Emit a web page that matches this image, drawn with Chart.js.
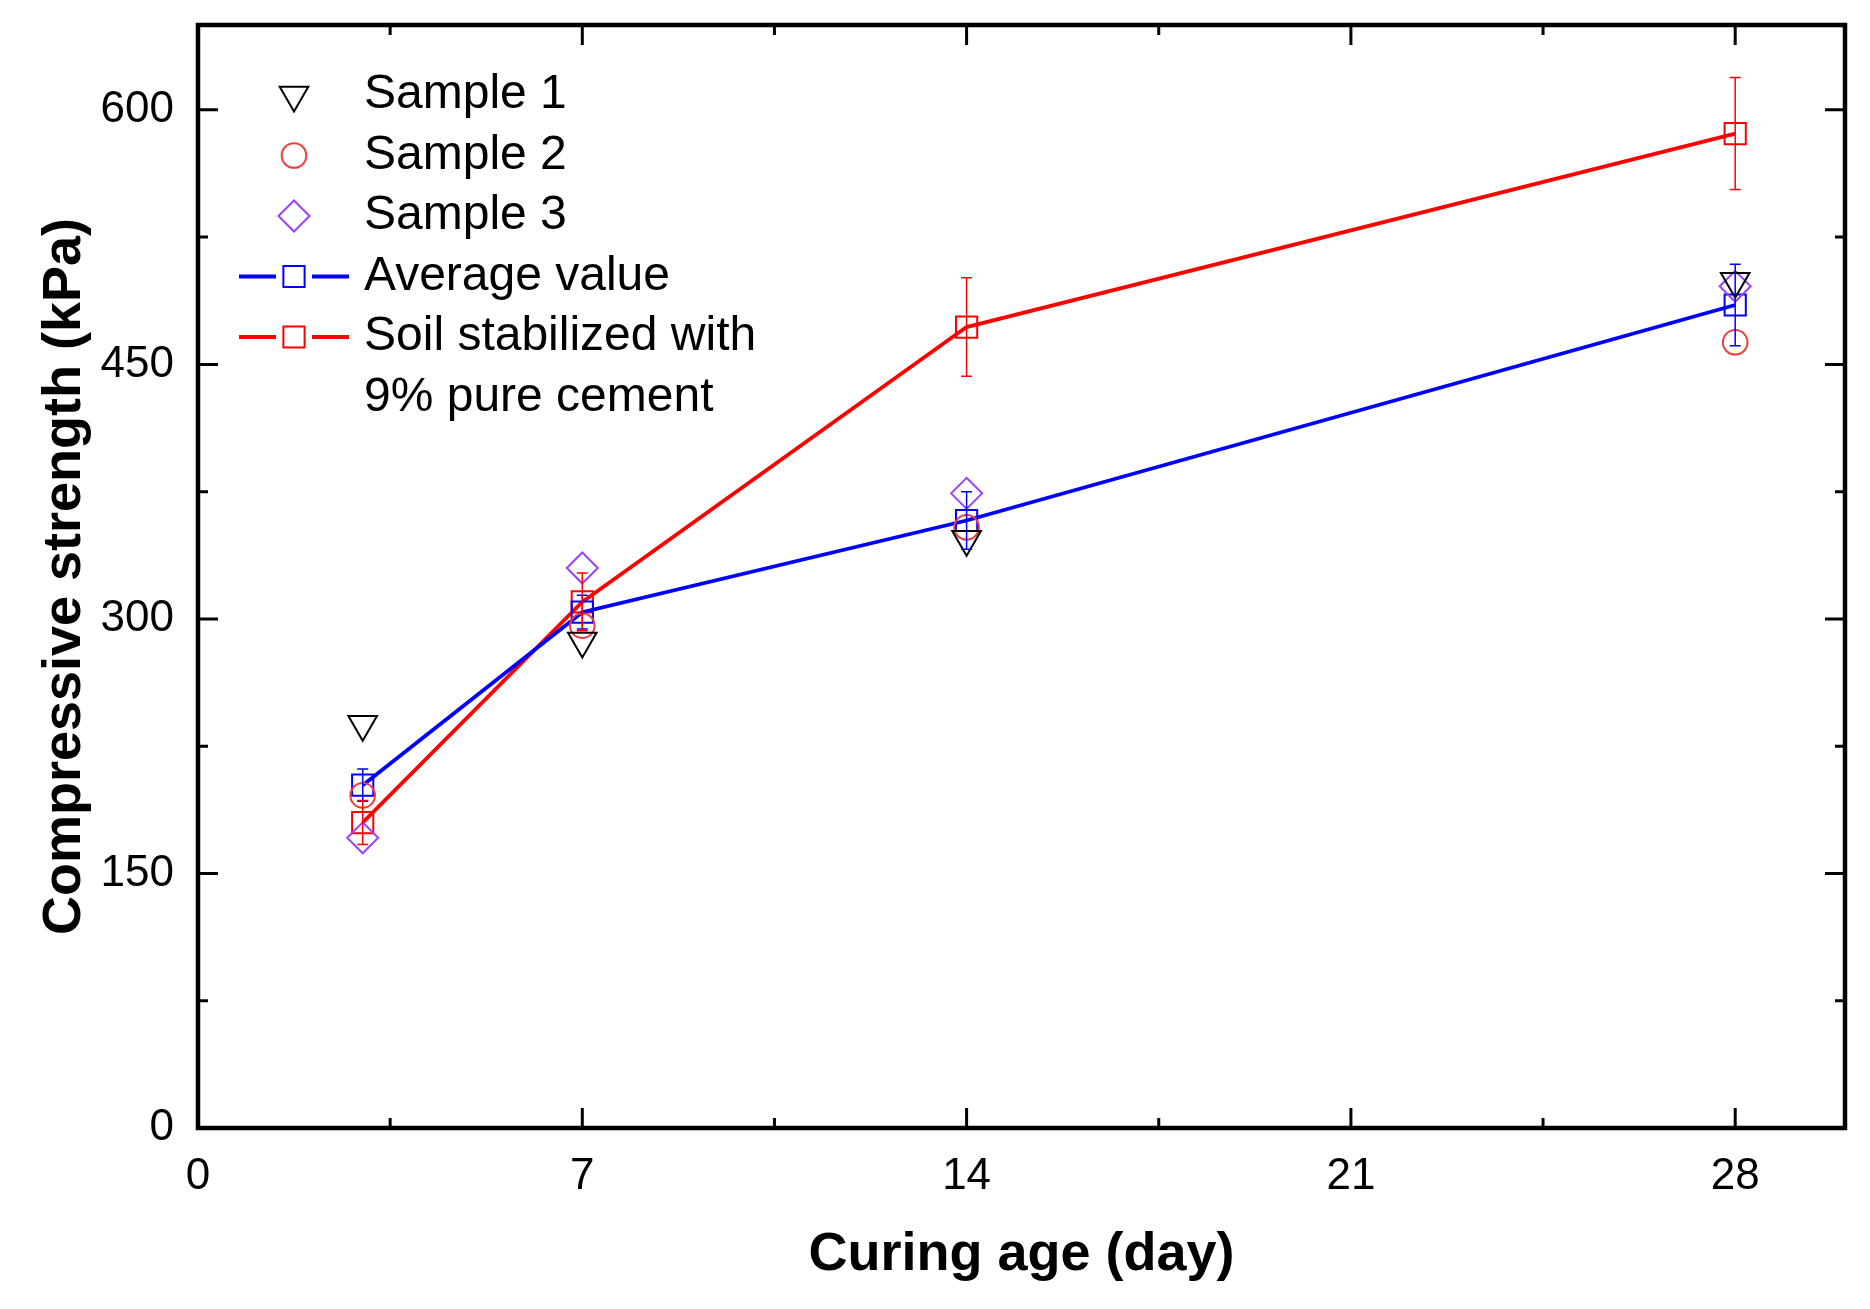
<!DOCTYPE html>
<html>
<head>
<meta charset="utf-8">
<title>Compressive strength vs curing age</title>
<script src="https://cdn.jsdelivr.net/npm/chart.js@4.4.1/dist/chart.umd.min.js"></script>
<style>
    html, body { margin: 0; padding: 0; background: #fff; }
    #wrap { width: 1870px; height: 1309px; position: relative; }
</style>
</head>
<body>
<div id="wrap"><canvas id="chart"></canvas></div>
<script>
// Curing age (day)
const days = [3, 7, 14, 28];

// Individual samples (kPa)
const sample1 = [238, 287, 347, 499];
const sample2 = [196, 296, 354, 463];
const sample3 = [171, 330, 374, 496];

// Average of the samples, with error bar half-heights
const average = [202, 304, 358, 485];
const averageErr = [9.5, 10, 17, 24];

// Soil stabilized with 9% pure cement
const cement = [180, 310, 472, 586];
const cementErr = [13, 17, 29, 33];

const FONT = "'Liberation Sans', Arial, Helvetica, sans-serif";
const BLUE = '#0000ff';
const RED = '#ff0000';
const CIRCLE_RED = '#f03c3c';
const PURPLE = '#9b40ff';

const toPoints = (ys) => days.map((d, i) => ({ x: d, y: ys[i] }));

const isMultiple = (v, step) => Math.abs(v / step - Math.round(v / step)) < 1e-6;

// Frame and inward ticks on all four sides (Origin style)
const framePlugin = {
    id: 'frame',
    afterDraw(chart) {
        const { ctx, chartArea: a, scales } = chart;
        ctx.save();
        ctx.strokeStyle = '#000';
        ctx.lineWidth = 3;
        scales.x.ticks.forEach(t => {
            if (!isMultiple(t.value, 3.5)) return;
            const len = isMultiple(t.value, 7) ? 20 : 10;
            const px = scales.x.getPixelForValue(t.value);
            ctx.beginPath();
            ctx.moveTo(px, a.bottom); ctx.lineTo(px, a.bottom - len);
            ctx.moveTo(px, a.top); ctx.lineTo(px, a.top + len);
            ctx.stroke();
        });
        scales.y.ticks.forEach(t => {
            if (!isMultiple(t.value, 75)) return;
            const len = isMultiple(t.value, 150) ? 20 : 10;
            const py = scales.y.getPixelForValue(t.value);
            ctx.beginPath();
            ctx.moveTo(a.left, py); ctx.lineTo(a.left + len, py);
            ctx.moveTo(a.right, py); ctx.lineTo(a.right - len, py);
            ctx.stroke();
        });
        ctx.lineWidth = 4.5;
        ctx.strokeRect(a.left, a.top, a.right - a.left, a.bottom - a.top);
        ctx.restore();
    }
};

// Vertical error bars for the two mean series
const errorBarPlugin = {
    id: 'errorBars',
    afterDatasetsDraw(chart) {
        const { ctx, scales } = chart;
        const sets = [
            { values: average, errs: averageErr, color: BLUE },
            { values: cement, errs: cementErr, color: RED }
        ];
        ctx.save();
        ctx.lineWidth = 1.5;
        sets.forEach(s => {
            ctx.strokeStyle = s.color;
            days.forEach((d, i) => {
                const px = scales.x.getPixelForValue(d);
                const top = scales.y.getPixelForValue(s.values[i] + s.errs[i]);
                const bot = scales.y.getPixelForValue(s.values[i] - s.errs[i]);
                ctx.beginPath();
                ctx.moveTo(px, top); ctx.lineTo(px, bot);
                ctx.moveTo(px - 5.5, top); ctx.lineTo(px + 5.5, top);
                ctx.moveTo(px - 5.5, bot); ctx.lineTo(px + 5.5, bot);
                ctx.stroke();
            });
        });
        ctx.restore();
    }
};

// Legend drawn inside the plot area, top left
const legendPlugin = {
    id: 'insideLegend',
    afterDraw(chart) {
        const { ctx, chartArea: a } = chart;
        const mx = a.left + 96;
        const tx = a.left + 166;
        const row0 = a.top + 70;
        const gap = 60.5;
        ctx.save();
        ctx.font = `48px ${FONT}`;
        ctx.textBaseline = 'middle';
        chart.data.datasets.forEach((ds, i) => {
            const y = row0 + i * gap;
            if (ds.showLine) {
                ctx.strokeStyle = ds.borderColor;
                ctx.lineWidth = ds.borderWidth;
                ctx.beginPath();
                ctx.moveTo(mx - 55, y); ctx.lineTo(mx - 18, y);
                ctx.moveTo(mx + 18, y); ctx.lineTo(mx + 55, y);
                ctx.stroke();
            }
            ctx.fillStyle = 'rgba(0,0,0,0)';
            ctx.strokeStyle = ds.pointBorderColor;
            ctx.lineWidth = ds.pointBorderWidth;
            Chart.helpers.drawPoint(ctx, {
                pointStyle: ds.pointStyle,
                radius: ds.pointRadius,
                rotation: ds.pointRotation || 0,
                borderWidth: ds.pointBorderWidth
            }, mx, y);
            const lines = Array.isArray(ds.label) ? ds.label : [ds.label];
            ctx.fillStyle = '#000';
            lines.forEach((t, j) => ctx.fillText(t, tx, y + j * gap));
        });
        ctx.restore();
    }
};

const markerBase = {
    showLine: false,
    pointBackgroundColor: 'rgba(0,0,0,0)',
    pointBorderWidth: 2,
    pointHoverRadius: 0
};

new Chart(document.getElementById('chart'), {
    type: 'scatter',
    data: {
        datasets: [
            { ...markerBase, label: 'Sample 1', data: toPoints(sample1), pointStyle: 'triangle', pointRotation: 180,
              pointRadius: 16.5, pointBorderColor: '#000', borderColor: '#000' },
            { ...markerBase, label: 'Sample 2', data: toPoints(sample2), pointStyle: 'circle',
              pointRadius: 12.3, pointBorderColor: CIRCLE_RED, borderColor: CIRCLE_RED },
            { ...markerBase, label: 'Sample 3', data: toPoints(sample3), pointStyle: 'rectRot',
              pointRadius: 15.5, pointBorderColor: PURPLE, borderColor: PURPLE },
            { ...markerBase, label: 'Average value', data: toPoints(average), pointStyle: 'rect', showLine: true,
              pointRadius: 15, pointBorderColor: BLUE, borderColor: BLUE, borderWidth: 3.8 },
            { ...markerBase, label: ['Soil stabilized with', '9% pure cement'], data: toPoints(cement), pointStyle: 'rect', showLine: true,
              pointRadius: 15, pointBorderColor: RED, borderColor: RED, borderWidth: 3.8 }
        ]
    },
    options: {
        responsive: true,
        maintainAspectRatio: false,
        animation: false,
        layout: { padding: { left: 0, right: 25, top: 0, bottom: 0 } },
        plugins: {
            legend: { display: false },
            tooltip: { enabled: false }
        },
        scales: {
            x: {
                type: 'linear',
                min: 0,
                max: 30,
                grid: { display: false, drawTicks: false },
                border: { display: false },
                ticks: {
                    stepSize: 3.5,
                    padding: 22,
                    color: '#000',
                    font: { family: FONT, size: 44 },
                    callback: v => isMultiple(v, 7) ? String(v) : ''
                },
                title: {
                    display: true,
                    text: 'Curing age (day)',
                    color: '#000',
                    font: { family: FONT, size: 54, weight: 'bold' },
                    padding: { top: 0, bottom: 21 }
                },
                afterFit: scale => {
                    scale.height = 181;
                    scale.paddingLeft = 0;
                    scale.paddingRight = 0;
                }
            },
            y: {
                type: 'linear',
                min: 0,
                max: 650,
                grid: { display: false, drawTicks: false },
                border: { display: false },
                ticks: {
                    stepSize: 75,
                    padding: 24,
                    color: '#000',
                    font: { family: FONT, size: 44 },
                    callback: v => isMultiple(v, 150) ? String(v) : ''
                },
                title: {
                    display: true,
                    text: 'Compressive strength (kPa)',
                    color: '#000',
                    font: { family: FONT, size: 54, weight: 'bold' },
                    padding: { top: 33, bottom: 0 }
                },
                afterFit: scale => {
                    scale.width = 198;
                    scale.paddingTop = 25;
                    scale.paddingBottom = 0;
                }
            }
        }
    },
    plugins: [framePlugin, errorBarPlugin, legendPlugin]
});
</script>
</body>
</html>
